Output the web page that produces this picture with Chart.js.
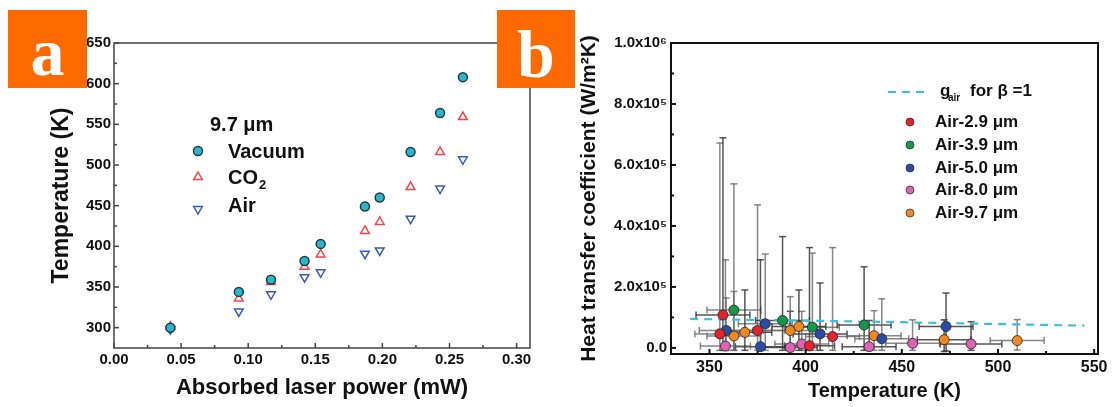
<!DOCTYPE html>
<html>
<head>
<meta charset="utf-8">
<script src="https://cdn.jsdelivr.net/npm/chart.js@4.4.1/dist/chart.umd.min.js"></script>
<style>
  body { margin: 0; background: #fff; width: 1116px; height: 407px; overflow: hidden; position: relative; }
  canvas { position: absolute; top: 0; }
  #chartA { left: 0; }
  #chartB { left: 540px; }
  .tag { position: absolute; top: 10px; height: 78px; overflow: hidden; background: #ff6a00; color: #fff;
         font-family: "Liberation Serif", "DejaVu Serif", serif; font-weight: bold; font-size: 68px; text-align: center; }
</style>
</head>
<body>
<canvas id="chartA" width="545" height="407"></canvas>
<canvas id="chartB" width="576" height="407"></canvas>
<div class="tag" style="left:8px;width:79px;line-height:84px;">a</div>
<div class="tag" style="left:497px;width:78px;line-height:88px;">b</div>
<script>
// ---- panel a: temperature vs absorbed power (9.7 um)
const powerMW = [0.042, 0.093, 0.117, 0.142, 0.154, 0.187, 0.198, 0.221, 0.243, 0.260];
const vacuumK = [300, 344, 359, 382, 403, 449, 460, 516, 564, 608];
const co2K    = [301, 336, 356, 375, 390, 419, 430, 473, 516, 559];
const airK    = [298, 320, 341, 362, 368, 391, 395, 434, 471, 507];
const aTicksX  = [0, 0.05, 0.10, 0.15, 0.20, 0.25, 0.30];
const aLabelsX = ['0.00', '0.05', '0.10', '0.15', '0.20', '0.25', '0.30'];
const aTicksY  = [300, 350, 400, 450, 500, 550, 600, 650];

// ---- panel b: heat transfer coefficient vs temperature
const bTicksX  = [350, 400, 450, 500, 550];
const bTicksY  = [0, 200000, 400000, 600000, 800000, 1000000];
const bLabelsY = ['0.0', '2.0x10⁵', '4.0x10⁵', '6.0x10⁵', '8.0x10⁵', '1.0x10⁶'];

const gairT = [340, 434, 545];
const gairH = [95000, 86000, 73000];

const red29T  = [355.4, 357, 375, 402, 414];
const red29H  = [46000, 108000, 57000, 7000, 37000];
const red29dT = [13, 14, 14, 13, 14];
const red29Lo = [-8000, -8000, -8000, -8000, -8000];
const red29Hi = [672000, 689000, 469000, 329000, 329000];

const grn39T  = [362.7, 388, 403.5, 430.4];
const grn39H  = [124000, 90000, 68000, 75000];
const grn39dT = [14, 14, 14, 14];
const grn39Lo = [-8000, -8000, -8000, -8000];
const grn39Hi = [538000, 365000, 311000, 266000];

const blu50T  = [358.7, 376.5, 379, 407.5, 439.6, 473];
const blu50H  = [57000, 4000, 79000, 46000, 30000, 70000];
const blu50dT = [14, 13, 14, 14, 14, 14];
const blu50Lo = [-8000, -8000, -8000, -8000, -8000, -10000];
const blu50Hi = [164000, 289000, 308000, 213000, 161000, 180000];

const pnk80T  = [358.3, 392, 398, 433, 455.6, 486];
const pnk80H  = [6000, 1000, 13000, 4000, 15000, 13000];
const pnk80dT = [13, 14, 14, 14, 14, 16];
const pnk80Lo = [-8000, -8000, -8000, -8000, -8000, -8000];
const pnk80Hi = [289000, 120000, 120000, 90000, 92000, 86000];

const org97T  = [362.7, 368.4, 392, 396.5, 435.6, 472, 510];
const org97H  = [39000, 51000, 57000, 70000, 40000, 27000, 24000];
const org97dT = [14, 14, 14, 14, 14, 14, 14];
const org97Lo = [-8000, -8000, -8000, -8000, -8000, -12000, -7000];
const org97Hi = [185000, 190000, 168000, 190000, 122000, 92000, 93000];

const SANS = '"Liberation Sans", Arial, sans-serif';

function pts(xs, ys) { return xs.map((v, i) => ({x: v, y: ys[i]})); }
function errPts(t, h, dT, lo, hi) {
  return t.map((v, i) => ({x: v, y: h[i], xMin: v - dT[i], xMax: v + dT[i], yMin: lo[i], yMax: hi[i]}));
}

// box round the plot + inward ticks on bottom and left
const frameTicks = {
  id: 'frameTicks',
  afterDraw(chart, args, o) {
    const {ctx, chartArea: a, scales: {x, y}} = chart;
    ctx.save();
    ctx.strokeStyle = o.color;
    ctx.lineWidth = o.width;
    ctx.strokeRect(a.left, a.top, a.right - a.left, a.bottom - a.top);
    const xs = x.ticks.map(t => t.value), ys = y.ticks.map(t => t.value);
    const seg = (x0, y0, x1, y1) => { ctx.beginPath(); ctx.moveTo(x0, y0); ctx.lineTo(x1, y1); ctx.stroke(); };
    xs.forEach((v, i) => {
      const p = x.getPixelForValue(v);
      seg(p, a.bottom, p, a.bottom - o.major);
      if (i < xs.length - 1) {
        const m = x.getPixelForValue((v + xs[i + 1]) / 2);
        seg(m, a.bottom, m, a.bottom - o.minor);
      }
    });
    ys.forEach((v, i) => {
      const p = y.getPixelForValue(v);
      seg(a.left, p, a.left + o.major, p);
      if (i < ys.length - 1) {
        const m = y.getPixelForValue((v + ys[i + 1]) / 2);
        seg(a.left, m, a.left + o.minor, m);
      }
    });
    ctx.restore();
  }
};

const errorBars = {
  id: 'errorBars',
  beforeDatasetsDraw(chart) {
    const {ctx, chartArea: a, scales: {x, y}} = chart;
    ctx.save();
    ctx.beginPath();
    ctx.rect(a.left, a.top, a.right - a.left, a.bottom - a.top);
    ctx.clip();
    ctx.lineWidth = 1.5;
    const seg = (x0, y0, x1, y1) => { ctx.beginPath(); ctx.moveTo(x0, y0); ctx.lineTo(x1, y1); ctx.stroke(); };
    chart.data.datasets.forEach(ds => {
      if (!ds.errorBars) return;
      ds.data.forEach((p, i) => {
        ctx.strokeStyle = i % 2 ? 'rgba(55,55,55,0.85)' : 'rgba(105,105,105,0.8)';
        const px = x.getPixelForValue(p.x), py = y.getPixelForValue(p.y);
        const x0 = x.getPixelForValue(p.xMin), x1 = x.getPixelForValue(p.xMax);
        const y0 = y.getPixelForValue(p.yMin), y1 = y.getPixelForValue(p.yMax);
        seg(x0, py, x1, py);
        seg(x0, py - 3.5, x0, py + 3.5);
        seg(x1, py - 3.5, x1, py + 3.5);
        seg(px, y0, px, y1);
        seg(px - 3.5, y0, px + 3.5, y0);
        seg(px - 3.5, y1, px + 3.5, y1);
      });
    });
    ctx.restore();
  }
};

function marker(ctx, style, x, y, r, fill, stroke, lw) {
  ctx.save();
  ctx.beginPath();
  if (style === 'circle') {
    ctx.arc(x, y, r, 0, Math.PI * 2);
  } else {
    const s = style === 'down' ? -1 : 1;
    ctx.moveTo(x, y - s * r);
    ctx.lineTo(x + r * 0.866, y + s * r * 0.5);
    ctx.lineTo(x - r * 0.866, y + s * r * 0.5);
    ctx.closePath();
  }
  if (fill) { ctx.fillStyle = fill; ctx.fill(); }
  ctx.lineWidth = lw; ctx.strokeStyle = stroke; ctx.stroke();
  ctx.restore();
}

const legendA = {
  id: 'legendA',
  afterDraw(chart) {
    const ctx = chart.ctx;
    ctx.save();
    ctx.fillStyle = '#111';
    ctx.textBaseline = 'middle';
    ctx.font = 'bold 20px ' + SANS;
    ctx.fillText('9.7 μm', 210, 125);
    ctx.fillText('Vacuum', 228, 152);
    ctx.fillText('CO', 228, 178);
    const w = ctx.measureText('CO').width;
    ctx.font = 'bold 13px ' + SANS;
    ctx.fillText('2', 228 + w + 1, 185);
    ctx.font = 'bold 20px ' + SANS;
    ctx.fillText('Air', 228, 206);
    marker(ctx, 'circle', 198, 151, 4.5, '#2bb7c9', '#1e3c44', 1.5);
    marker(ctx, 'up', 198, 177, 5, null, '#f04444', 1.5);
    marker(ctx, 'down', 198, 209, 5, null, '#3a5cb8', 1.5);
    ctx.restore();
  }
};

const legendB = {
  id: 'legendB',
  afterDraw(chart) {
    const ctx = chart.ctx, dx = -540;
    ctx.save();
    ctx.strokeStyle = '#3dbfd9';
    ctx.lineWidth = 2.2;
    ctx.setLineDash([8, 6]);
    ctx.beginPath(); ctx.moveTo(888 + dx, 92); ctx.lineTo(928 + dx, 92); ctx.stroke();
    ctx.setLineDash([]);
    ctx.fillStyle = '#111';
    ctx.textBaseline = 'middle';
    ctx.font = 'bold 17px ' + SANS;
    ctx.fillText('g', 940 + dx, 91);
    ctx.font = 'bold 10px ' + SANS;
    ctx.fillText('air', 948 + dx, 98);
    ctx.font = 'bold 17px ' + SANS;
    ctx.fillText('for β =1', 970 + dx, 91);
    const rows = [122, 145, 168, 190, 213];
    chart.data.datasets.filter(d => d.errorBars).forEach((d, i) => {
      marker(ctx, 'circle', 910 + dx, rows[i], 4, d.backgroundColor, '#333', 0.8);
      ctx.fillStyle = '#111';
      ctx.fillText(d.label, 935 + dx, rows[i]);
    });
    ctx.restore();
  }
};

const tickFont = size => ({family: SANS, weight: 'bold', size: size});

new Chart(document.getElementById('chartA'), {
  type: 'scatter',
  data: {
    datasets: [
      {label: 'Vacuum', data: pts(powerMW, vacuumK), pointStyle: 'circle', pointRadius: 4.5,
       backgroundColor: '#2bb7c9', borderColor: '#1e3c44', borderWidth: 1.5},
      {label: 'CO2', data: pts(powerMW, co2K), pointStyle: 'triangle', pointRadius: 5,
       backgroundColor: 'rgba(0,0,0,0)', borderColor: '#f04444', borderWidth: 1.5},
      {label: 'Air', data: pts(powerMW, airK), pointStyle: 'triangle', rotation: 180, pointRadius: 5,
       backgroundColor: 'rgba(0,0,0,0)', borderColor: '#3a5cb8', borderWidth: 1.5}
    ]
  },
  options: {
    responsive: false,
    animation: false,
    layout: {padding: {top: 43, right: 15, left: 0, bottom: 0}},
    plugins: {legend: {display: false}, tooltip: {enabled: false},
              frameTicks: {color: '#444', width: 1.5, major: 5, minor: 3}},
    scales: {
      x: {
        type: 'linear', min: 0, max: 0.31,
        grid: {display: false, drawTicks: false}, border: {display: false},
        afterBuildTicks: s => { s.ticks = aTicksX.map(v => ({value: v})); },
        afterFit: s => { s.height = 59; },
        ticks: {color: '#111', font: tickFont(15), padding: 3, maxRotation: 0,
                callback: v => aLabelsX[aTicksX.indexOf(v)]},
        title: {display: true, text: 'Absorbed laser power (mW)', color: '#111',
                font: {family: SANS, weight: 'bold', size: 22}, padding: {bottom: 6}}
      },
      y: {
        type: 'linear', min: 275, max: 650,
        grid: {display: false, drawTicks: false}, border: {display: false},
        afterBuildTicks: s => { s.ticks = aTicksY.map(v => ({value: v})); },
        afterFit: s => { s.width = 114; },
        ticks: {color: '#111', font: tickFont(15), padding: 3},
        title: {display: true, text: 'Temperature (K)', color: '#111',
                font: {family: SANS, weight: 'bold', size: 23}, padding: {top: 48}}
      }
    }
  },
  plugins: [frameTicks, legendA]
});

const dotStyle = (label, color, data) => ({
  label: label, data: data, errorBars: true, pointStyle: 'circle', pointRadius: 5,
  backgroundColor: color, borderColor: 'rgba(40,40,40,0.85)', borderWidth: 1
});

new Chart(document.getElementById('chartB'), {
  type: 'scatter',
  data: {
    datasets: [
      dotStyle('Air-2.9 μm', '#e8222a', errPts(red29T, red29H, red29dT, red29Lo, red29Hi)),
      dotStyle('Air-3.9 μm', '#13994b', errPts(grn39T, grn39H, grn39dT, grn39Lo, grn39Hi)),
      dotStyle('Air-5.0 μm', '#2b4ba8', errPts(blu50T, blu50H, blu50dT, blu50Lo, blu50Hi)),
      dotStyle('Air-8.0 μm', '#e062b4', errPts(pnk80T, pnk80H, pnk80dT, pnk80Lo, pnk80Hi)),
      dotStyle('Air-9.7 μm', '#f2891f', errPts(org97T, org97H, org97dT, org97Lo, org97Hi)),
      {label: 'gair', data: pts(gairT, gairH), showLine: true, pointRadius: 0,
       borderColor: '#3dbfd9', borderWidth: 2.2, borderDash: [8, 6], fill: false}
    ]
  },
  options: {
    responsive: false,
    animation: false,
    layout: {padding: {top: 43, right: 18, left: 0, bottom: 0}},
    plugins: {legend: {display: false}, tooltip: {enabled: false},
              frameTicks: {color: '#111', width: 2, major: 5, minor: 3}},
    scales: {
      x: {
        type: 'linear', min: 330, max: 552,
        grid: {display: false, drawTicks: false}, border: {display: false},
        afterBuildTicks: s => { s.ticks = bTicksX.map(v => ({value: v})); },
        afterFit: s => { s.height = 53; },
        ticks: {color: '#111', font: tickFont(16), padding: 4, maxRotation: 0},
        title: {display: true, text: 'Temperature (K)', color: '#111',
                font: {family: SANS, weight: 'bold', size: 20}, padding: {bottom: 4}}
      },
      y: {
        type: 'linear', min: -20000, max: 1000000,
        grid: {display: false, drawTicks: false}, border: {display: false},
        afterBuildTicks: s => { s.ticks = bTicksY.map(v => ({value: v})); },
        afterFit: s => { s.width = 131; },
        ticks: {color: '#111', font: tickFont(15), padding: 4,
                callback: v => bLabelsY[bTicksY.indexOf(v)]},
        title: {display: true, text: 'Heat transfer coefficient (W/m²K)', color: '#111',
                font: {family: SANS, weight: 'bold', size: 21}, padding: {top: 37}}
      }
    }
  },
  plugins: [errorBars, frameTicks, legendB]
});
</script>
</body>
</html>
